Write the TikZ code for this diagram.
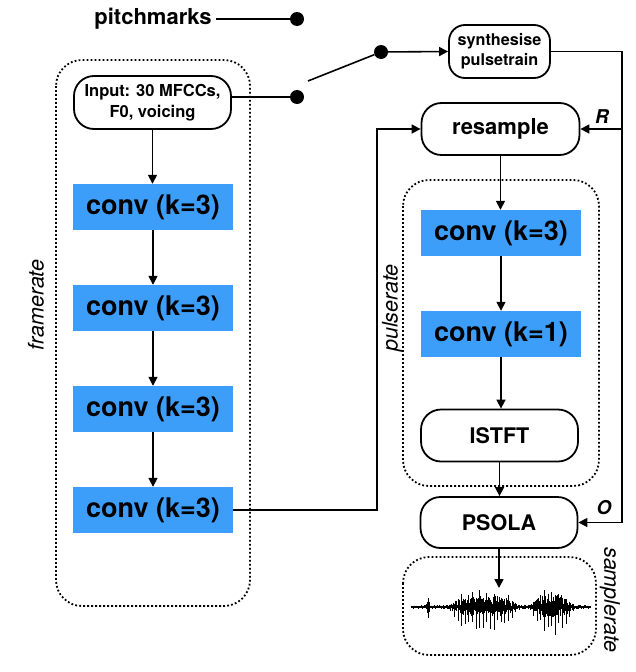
\documentclass[tikz,border=0pt]{standalone}
\usepackage{fontspec}
\setmainfont{TeX Gyre Heros}
\usetikzlibrary{arrows.meta,calc}
\definecolor{convblue}{RGB}{61,158,250}
\begin{document}
\begin{tikzpicture}[x=1pt,y=-1pt,
 every node/.style={inner sep=0pt},
 arr/.style={-{Triangle[length=9pt,width=9pt]}, line width=1.6pt},
 ln/.style={line width=1.6pt},
 conv/.style={fill=convblue, minimum width=160pt, minimum height=46pt, font=\bfseries\fontsize{27}{30}\selectfont},
 rbox/.style={draw, line width=1.8pt, rounded corners=20pt, minimum width=157pt, minimum height=52pt, font=\bfseries\fontsize{21.5}{24}\selectfont},
 dotbox/.style={line width=1.8pt, dash pattern=on 1.8pt off 2.2pt, rounded corners=26pt},
 ratelab/.style={font=\itshape\fontsize{21.5}{24}\selectfont},
 blob/.style={circle, fill, minimum size=14pt},
 io/.style={font=\bfseries\itshape\fontsize{19}{22}\selectfont},
 wave/.style={line width=0.5pt}
]
\useasboundingbox (0,0) rectangle (636,672);

% rate boxes
\draw[dotbox] (56,60) rectangle (250,606);
\draw[dotbox] (403,180) rectangle (599,486);
\draw[dotbox] (403,557) rectangle (596,655);
\node[ratelab, rotate=90] (lfr) at (36,305) {framerate};
\node[ratelab, rotate=90] (lpr) at (392,308) {pulserate};
\node[ratelab, rotate=-90] (lsr) at (610,600) {samplerate};

% top
\node[font=\bfseries\fontsize{22}{24}\selectfont] (pm) at (153,19) {pitchmarks};
\node[blob] (d0) at (297,19) {};
\node[blob] (d1) at (297,97) {};
\node[blob] (d2) at (381,52) {};
\coordinate (lev) at (308,81);
\coordinate (rx) at (622,0);
\coordinate (lx) at (377,0);
\coordinate (wv) at (499,588);

% left column
\node[rbox, minimum width=157pt, minimum height=53pt, align=center, font=\bfseries\fontsize{16.5}{21}\selectfont] (in) at (152.5,102.5) {Input: 30 MFCCs,\\F0, voicing};
\node[conv] (c1) at (153,207) {conv (k=3)};
\node[conv] (c2) at (153,308) {conv (k=3)};
\node[conv] (c3) at (153,409) {conv (k=3)};
\node[conv] (c4) at (153,510) {conv (k=3)};

% right column
\node[rbox, minimum width=101pt, minimum height=53pt, rounded corners=16pt, align=center, font=\bfseries\fontsize{16.2}{20}\selectfont] (syn) at (499.5,51.5) {synthesise\\pulsetrain};
\node[rbox, minimum width=158pt, font=\bfseries\fontsize{22}{24}\selectfont] (rs) at (500.5,129) {resample};
\node[conv] (c5) at (501,233) {conv (k=3)};
\node[conv] (c6) at (501,334) {conv (k=1)};
\node[rbox] (ist) at (499.5,435.5) {ISTFT};
\node[rbox, minimum height=51pt] (ps) at (499,522.5) {PSOLA};
\node[io] (lr) at (602,117) {R};
\node[io] (lo) at (604,508) {O};

% connectors
\draw[ln] ([xshift=4pt]pm.east) -- (d0);
\draw[ln] (in.east |- d1) -- (d1);
\draw[ln] (lev) -- (d2);
\draw[arr] (d2) -- (syn.west);
\draw[arr] (syn.east) -| (rx |- ps.east) -- (ps.east);
\draw[arr] (rx |- rs.east) -- (rs.east);
\draw[arr] (c4.east) -| (lx |- rs.west) -- (rs.west);
\draw[arr] (in.south) -- (in.south |- c1.north);
\draw[arr] (c1.south) -- (c2.north);
\draw[arr] (c2.south) -- (c3.north);
\draw[arr] (c3.south) -- (c4.north);
\draw[arr] (rs.south) -- (rs.south |- c5.north);
\draw[arr] (c5.south) -- (c6.north);
\draw[arr] (c6.south) -- (c6.south |- ist.north);
\draw[arr] (ist.south) -- (ist.south |- ps.north);
\draw[arr] (ps.south) -- (ps.south |- wv);

% waveform
\draw[line width=1pt] (411,607) -- (590,607);
\pgfmathsetseed{11}
\foreach \i in {0,...,298}{
  \pgfmathsetmacro\xx{411+0.6*\i}
  \pgfmathsetmacro\ta{min(3,abs(\xx-483)/30)}
  \pgfmathsetmacro\tb{min(3,abs(\xx-552)/18)}
  \pgfmathsetmacro\tc{min(20,abs(\xx-428)/1.0)}
  \pgfmathsetmacro\s{exp(-min(20,\ta*\ta*\ta*\ta*\ta*\ta))+1.15*exp(-min(20,\tb*\tb*\tb*\tb))}
  \pgfmathsetmacro\ec{exp(-min(20,\tc*\tc))}
  \pgfmathsetmacro\spk{mod(\i,6)==0}
  \pgfmathsetmacro\up{0.6+1.2*rnd+\s*(10*rnd+\spk*(4+7*rnd*rnd))+8*\ec}
  \pgfmathsetmacro\dn{0.6+1.2*rnd+\s*(8*rnd+\spk*(9+9*rnd))+10*\ec}
  \draw[wave] (\xx,607-\up) -- (\xx,607+\dn);
}
\end{tikzpicture}
\end{document}
